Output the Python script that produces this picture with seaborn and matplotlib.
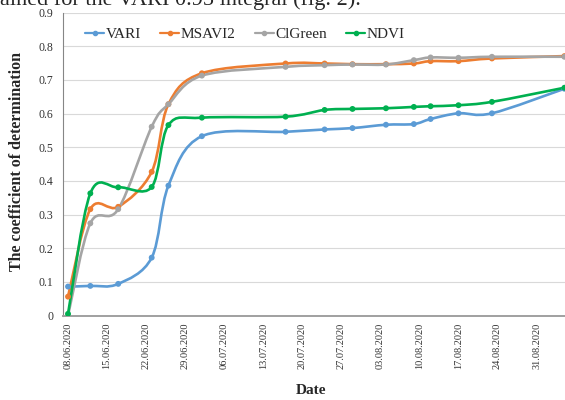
"""Coefficient of determination vs date for four vegetation indices (Excel-style smoothed lines)."""
import matplotlib
matplotlib.use("Agg")
import matplotlib.pyplot as plt
import matplotlib.dates as mdates
from matplotlib.lines import Line2D
from matplotlib.patches import PathPatch
from matplotlib.path import Path
from matplotlib.ticker import FuncFormatter
import numpy as np
import pandas as pd
import seaborn as sns

# ---- data ----
dates = ["2020-06-08", "2020-06-12", "2020-06-17", "2020-06-23", "2020-06-26",
         "2020-07-02", "2020-07-17", "2020-07-24", "2020-07-29", "2020-08-04",
         "2020-08-09", "2020-08-12", "2020-08-17", "2020-08-23", "2020-09-05"]
vari = [0.086, 0.088, 0.094, 0.172, 0.386, 0.533, 0.546, 0.553, 0.557, 0.567,
        0.569, 0.584, 0.601, 0.601, 0.674]
msavi2 = [0.056, 0.316, 0.323, 0.427, 0.628, 0.720, 0.749, 0.749, 0.747, 0.747,
          0.749, 0.756, 0.756, 0.764, 0.771]
clgreen = [0.0, 0.274, 0.316, 0.561, 0.628, 0.713, 0.739, 0.744, 0.746, 0.746,
           0.759, 0.767, 0.766, 0.769, 0.769]
ndvi = [0.005, 0.363, 0.381, 0.382, 0.566, 0.588, 0.591, 0.611, 0.614, 0.616,
        0.620, 0.622, 0.625, 0.635, 0.677]
series_names = ["VARI", "MSAVI2", "ClGreen", "NDVI"]
colors = ["#5B9BD5", "#ED7D31", "#A5A5A5", "#00B050"]
tick_dates = ["08.06.2020", "15.06.2020", "22.06.2020", "29.06.2020", "06.07.2020",
              "13.07.2020", "20.07.2020", "27.07.2020", "03.08.2020", "10.08.2020",
              "17.08.2020", "24.08.2020", "31.08.2020"]

df = pd.DataFrame({"date": pd.to_datetime(dates), "VARI": vari, "MSAVI2": msavi2,
                   "ClGreen": clgreen, "NDVI": ndvi})
long = df.melt(id_vars="date", var_name="index", value_name="r2")

sns.set_theme(style="white")
plt.rcParams["font.family"] = ["Liberation Serif", "DejaVu Serif"]

fig = plt.figure(figsize=(5.65, 4.0), dpi=100)
ax = fig.add_axes([63 / 565, 1 - 315.5 / 400, 1 - 63 / 565, (315.5 - 12.7) / 400])


def smooth_path(x, y):
    """Catmull-Rom style Bezier through the points, like Excel's smoothed line."""
    pts = np.column_stack([x, y])
    verts = [pts[0]]
    codes = [Path.MOVETO]
    n = len(pts)
    for i in range(n - 1):
        p0 = pts[i - 1] if i > 0 else pts[i]
        p1, p2 = pts[i], pts[i + 1]
        p3 = pts[i + 2] if i + 2 < n else pts[i + 1]
        c1 = p1 + (p2 - p0) / 6
        c2 = p2 - (p3 - p1) / 6
        verts += [c1, c2, p2]
        codes += [Path.CURVE4] * 3
    return Path(verts, codes)


# markers through seaborn, smoothed lines as bezier paths in data coordinates
sns.scatterplot(data=long, x="date", y="r2", hue="index", hue_order=series_names,
                palette=colors, s=18, linewidth=0, legend=False, ax=ax, zorder=3)
xnum = mdates.date2num(df["date"])
for k, (name, color) in enumerate(zip(series_names, colors)):
    patch = PathPatch(smooth_path(xnum, df[name].values), facecolor="none",
                      edgecolor=color, lw=1.9, zorder=2 + k * 0.1)
    ax.add_patch(patch)

start = pd.Timestamp("2020-06-08")
ax.set_xlim(start - pd.Timedelta(days=0.9), start + pd.Timedelta(days=89.1))
ax.set_ylim(0, 0.9)
ax.set_xticks(pd.to_datetime(tick_dates, format="%d.%m.%Y"))
ax.set_xticklabels(tick_dates, rotation=90, fontsize=7.5, color="#333333")
ax.set_yticks(np.arange(0, 0.91, 0.1))
ax.yaxis.set_major_formatter(FuncFormatter(lambda v, _: f"{v:g}"))
ax.tick_params(axis="y", labelsize=8.5, labelcolor="#333333", length=0, pad=7)
ax.tick_params(axis="x", length=0, pad=5)

ax.grid(axis="y", color="#D9D9D9", lw=0.8)
ax.grid(axis="x", visible=False)
for s in ["top", "right"]:
    ax.spines[s].set_visible(False)
ax.spines["left"].set_color("#868686")
ax.spines["left"].set_linewidth(0.8)
ax.spines["bottom"].set_color("#A0A0A0")
ax.spines["bottom"].set_linewidth(1.4)

ax.set_ylabel("The coefficient of determination", fontsize=11.5, fontweight="bold")
ax.yaxis.set_label_coords(-0.0757, 0.51)
ax.set_xlabel("Date", fontsize=11, fontweight="bold")
ax.xaxis.set_label_coords(0.494, -0.226)

handles = [Line2D([], [], color=c, lw=1.6, marker="o", markersize=3) for c in colors]
fig.legend(handles, series_names, loc="center left", ncol=4, frameon=False,
           bbox_to_anchor=(85 / 565, 1 - 34 / 400), fontsize=11, handlelength=1.25,
           handletextpad=0.1, columnspacing=1.25, borderpad=0, borderaxespad=0)

# cut-off line of body text above the figure
fig.text(0.0, 1 - 5.5 / 400, "ained for the VARI 0.95 integral (fig. 2).",
         fontsize=16, va="baseline", ha="left")

fig.savefig("out.png", dpi=100)
